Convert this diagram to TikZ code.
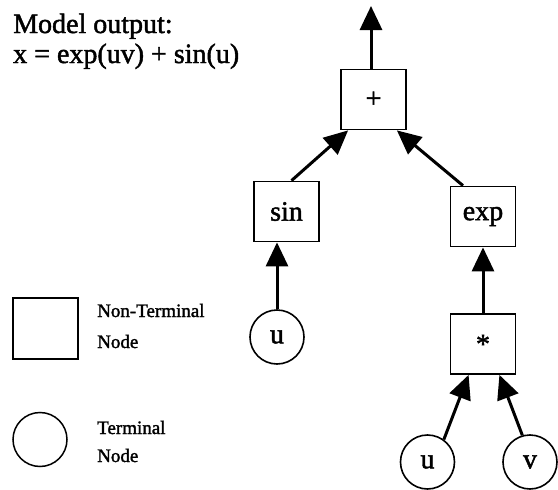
\documentclass[tikz,border=0pt]{standalone}
\usepackage{fontspec}
\setmainfont{Liberation Serif}[FakeBold=1.6]
\usetikzlibrary{arrows.meta}
\begin{document}
\begin{tikzpicture}[x=1pt,y=-1pt,
  opbox/.style={draw,line width=1.8pt,minimum width=65pt,minimum height=60pt,inner sep=0pt,
    font=\fontsize{28}{30}\selectfont},
  termnode/.style={draw,circle,line width=1.6pt,minimum size=54pt,inner sep=0pt,
    font=\fontsize{28}{30}\selectfont},
  legbox/.style={draw,line width=1.5pt,minimum width=65pt,minimum height=61pt,inner sep=0pt},
  legcirc/.style={draw,circle,line width=1.5pt,minimum size=54pt,inner sep=0pt},
  legtext/.style={anchor=base west,inner sep=0pt,font=\fontsize{19}{21}\selectfont},
  titletext/.style={anchor=base west,inner sep=0pt,font=\fontsize{28}{30}\selectfont},
  arr/.style={line width=3pt,-{Triangle[length=24pt,width=22pt]}}]
\useasboundingbox (0,0) rectangle (558,490);

% title
\node[titletext] (t1) at (13,33) {Model output:};
\node[titletext] (t2) at (13,63) {x = exp(uv) + sin(u)};

% tree
\node[opbox] (plus) at (373.5,99.5) {\raisebox{-3pt}{+}};
\node[opbox] (sin) at (286.5,211.5) {sin};
\node[opbox] (exp) at (483,216.5) {exp};
\node[opbox] (mul) at (483,344) {\raisebox{-6pt}{*}};
\node[termnode] (u1) at (277,337) {u};
\node[termnode] (u2) at (427.5,462) {u};
\node[termnode] (v) at (530,462) {v};
\coordinate (out) at (371,6);

\draw[arr] (plus.north -| out) -- (out);
\draw[arr] ([xshift=5pt]sin.north) -- ([xshift=8pt]plus.south west);
\draw[arr] ([xshift=-20pt]exp.north) -- ([xshift=-10pt]plus.south east);
\draw[arr] (u1.north) -- (u1.north |- sin.south);
\draw[arr] (mul.north) -- (mul.north |- exp.south);
\draw[arr] (u2.54) -- ([xshift=19pt]mul.south west);
\draw[arr] (v.106) -- ([xshift=-17pt]mul.south east);

% legend
\node[legbox] (lbox) at (45.5,328.5) {};
\node[legcirc] (lcirc) at (40,439.5) {};
\node[legtext] (l1) at (97,317) {Non-Terminal};
\node[legtext] (l2) at (97,348) {Node};
\node[legtext] (l3) at (97,434) {Terminal};
\node[legtext] (l4) at (97,462) {Node};
\end{tikzpicture}
\end{document}
